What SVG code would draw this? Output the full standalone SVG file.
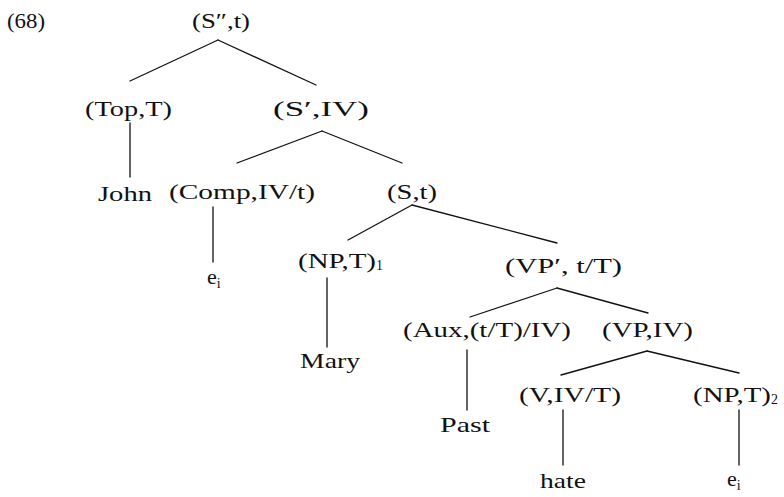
<svg xmlns="http://www.w3.org/2000/svg" width="784" height="497" viewBox="0 0 784 497">
  <style>
    text { font-family: "Liberation Serif", "Times New Roman", serif; font-size: 22px; fill: #111; }
    .sub { font-size: 14px; }
    line { stroke: #111; stroke-width: 1.3; stroke-linecap: round; }
  </style>
  <rect width="784" height="497" fill="#fff"/>

  <!-- example number -->
  <text id="ex-number" x="7" y="28" textLength="38" lengthAdjust="spacingAndGlyphs">(68)</text>

  <!-- tree branches -->
  <g id="connectors">
    <line x1="218" y1="40" x2="130" y2="81"/>
    <line x1="218" y1="40" x2="316" y2="85"/>
    <line x1="130" y1="123" x2="130" y2="177"/>
    <line x1="322" y1="131" x2="237" y2="163"/>
    <line x1="322" y1="131" x2="402" y2="163"/>
    <line x1="213" y1="207" x2="213" y2="262"/>
    <line x1="412" y1="205" x2="348" y2="240"/>
    <line x1="412" y1="205" x2="557" y2="243"/>
    <line x1="327" y1="278" x2="327" y2="347"/>
    <line x1="557" y1="288" x2="470" y2="317"/>
    <line x1="557" y1="288" x2="648" y2="313"/>
    <line x1="467" y1="350" x2="467" y2="410"/>
    <line x1="647" y1="351" x2="561" y2="375"/>
    <line x1="647" y1="351" x2="739" y2="373"/>
    <line x1="563" y1="410" x2="563" y2="465"/>
    <line x1="739" y1="410" x2="739" y2="465"/>
  </g>

  <!-- node labels -->
  <g id="s2"><text x="192" y="28" textLength="58" lengthAdjust="spacingAndGlyphs">(S″,t)</text></g>
  <g id="top"><text x="85" y="116" textLength="87" lengthAdjust="spacingAndGlyphs">(Top,T)</text></g>
  <g id="s1"><text x="273" y="116" textLength="96" lengthAdjust="spacingAndGlyphs">(S′,IV)</text></g>
  <g id="john"><text x="98" y="201" textLength="54" lengthAdjust="spacingAndGlyphs">John</text></g>
  <g id="comp"><text x="169" y="199" textLength="146" lengthAdjust="spacingAndGlyphs">(Comp,IV/t)</text></g>
  <g id="s"><text x="387" y="199" textLength="50" lengthAdjust="spacingAndGlyphs">(S,t)</text></g>
  <g id="ei-1"><text x="207" y="284">e<tspan class="sub" dy="4">i</tspan></text></g>
  <g id="np1"><text x="298" y="268"><tspan textLength="78" lengthAdjust="spacingAndGlyphs">(NP,T)</tspan><tspan class="sub" dy="2">1</tspan></text></g>
  <g id="vpbar"><text x="505" y="273" textLength="117" lengthAdjust="spacingAndGlyphs">(VP′, t/T)</text></g>
  <g id="mary"><text x="300" y="368" textLength="60" lengthAdjust="spacingAndGlyphs">Mary</text></g>
  <g id="aux"><text x="403" y="337" textLength="168" lengthAdjust="spacingAndGlyphs">(Aux,(t/T)/IV)</text></g>
  <g id="vp"><text x="602" y="337" textLength="91" lengthAdjust="spacingAndGlyphs">(VP,IV)</text></g>
  <g id="past"><text x="440" y="432" textLength="50" lengthAdjust="spacingAndGlyphs">Past</text></g>
  <g id="v"><text x="519" y="402" textLength="102" lengthAdjust="spacingAndGlyphs">(V,IV/T)</text></g>
  <g id="np2"><text x="693" y="402"><tspan textLength="78" lengthAdjust="spacingAndGlyphs">(NP,T)</tspan><tspan class="sub" dy="2">2</tspan></text></g>
  <g id="hate"><text x="540" y="488" textLength="46" lengthAdjust="spacingAndGlyphs">hate</text></g>
  <g id="ei-2"><text x="727" y="486">e<tspan class="sub" dy="4">i</tspan></text></g>
</svg>
